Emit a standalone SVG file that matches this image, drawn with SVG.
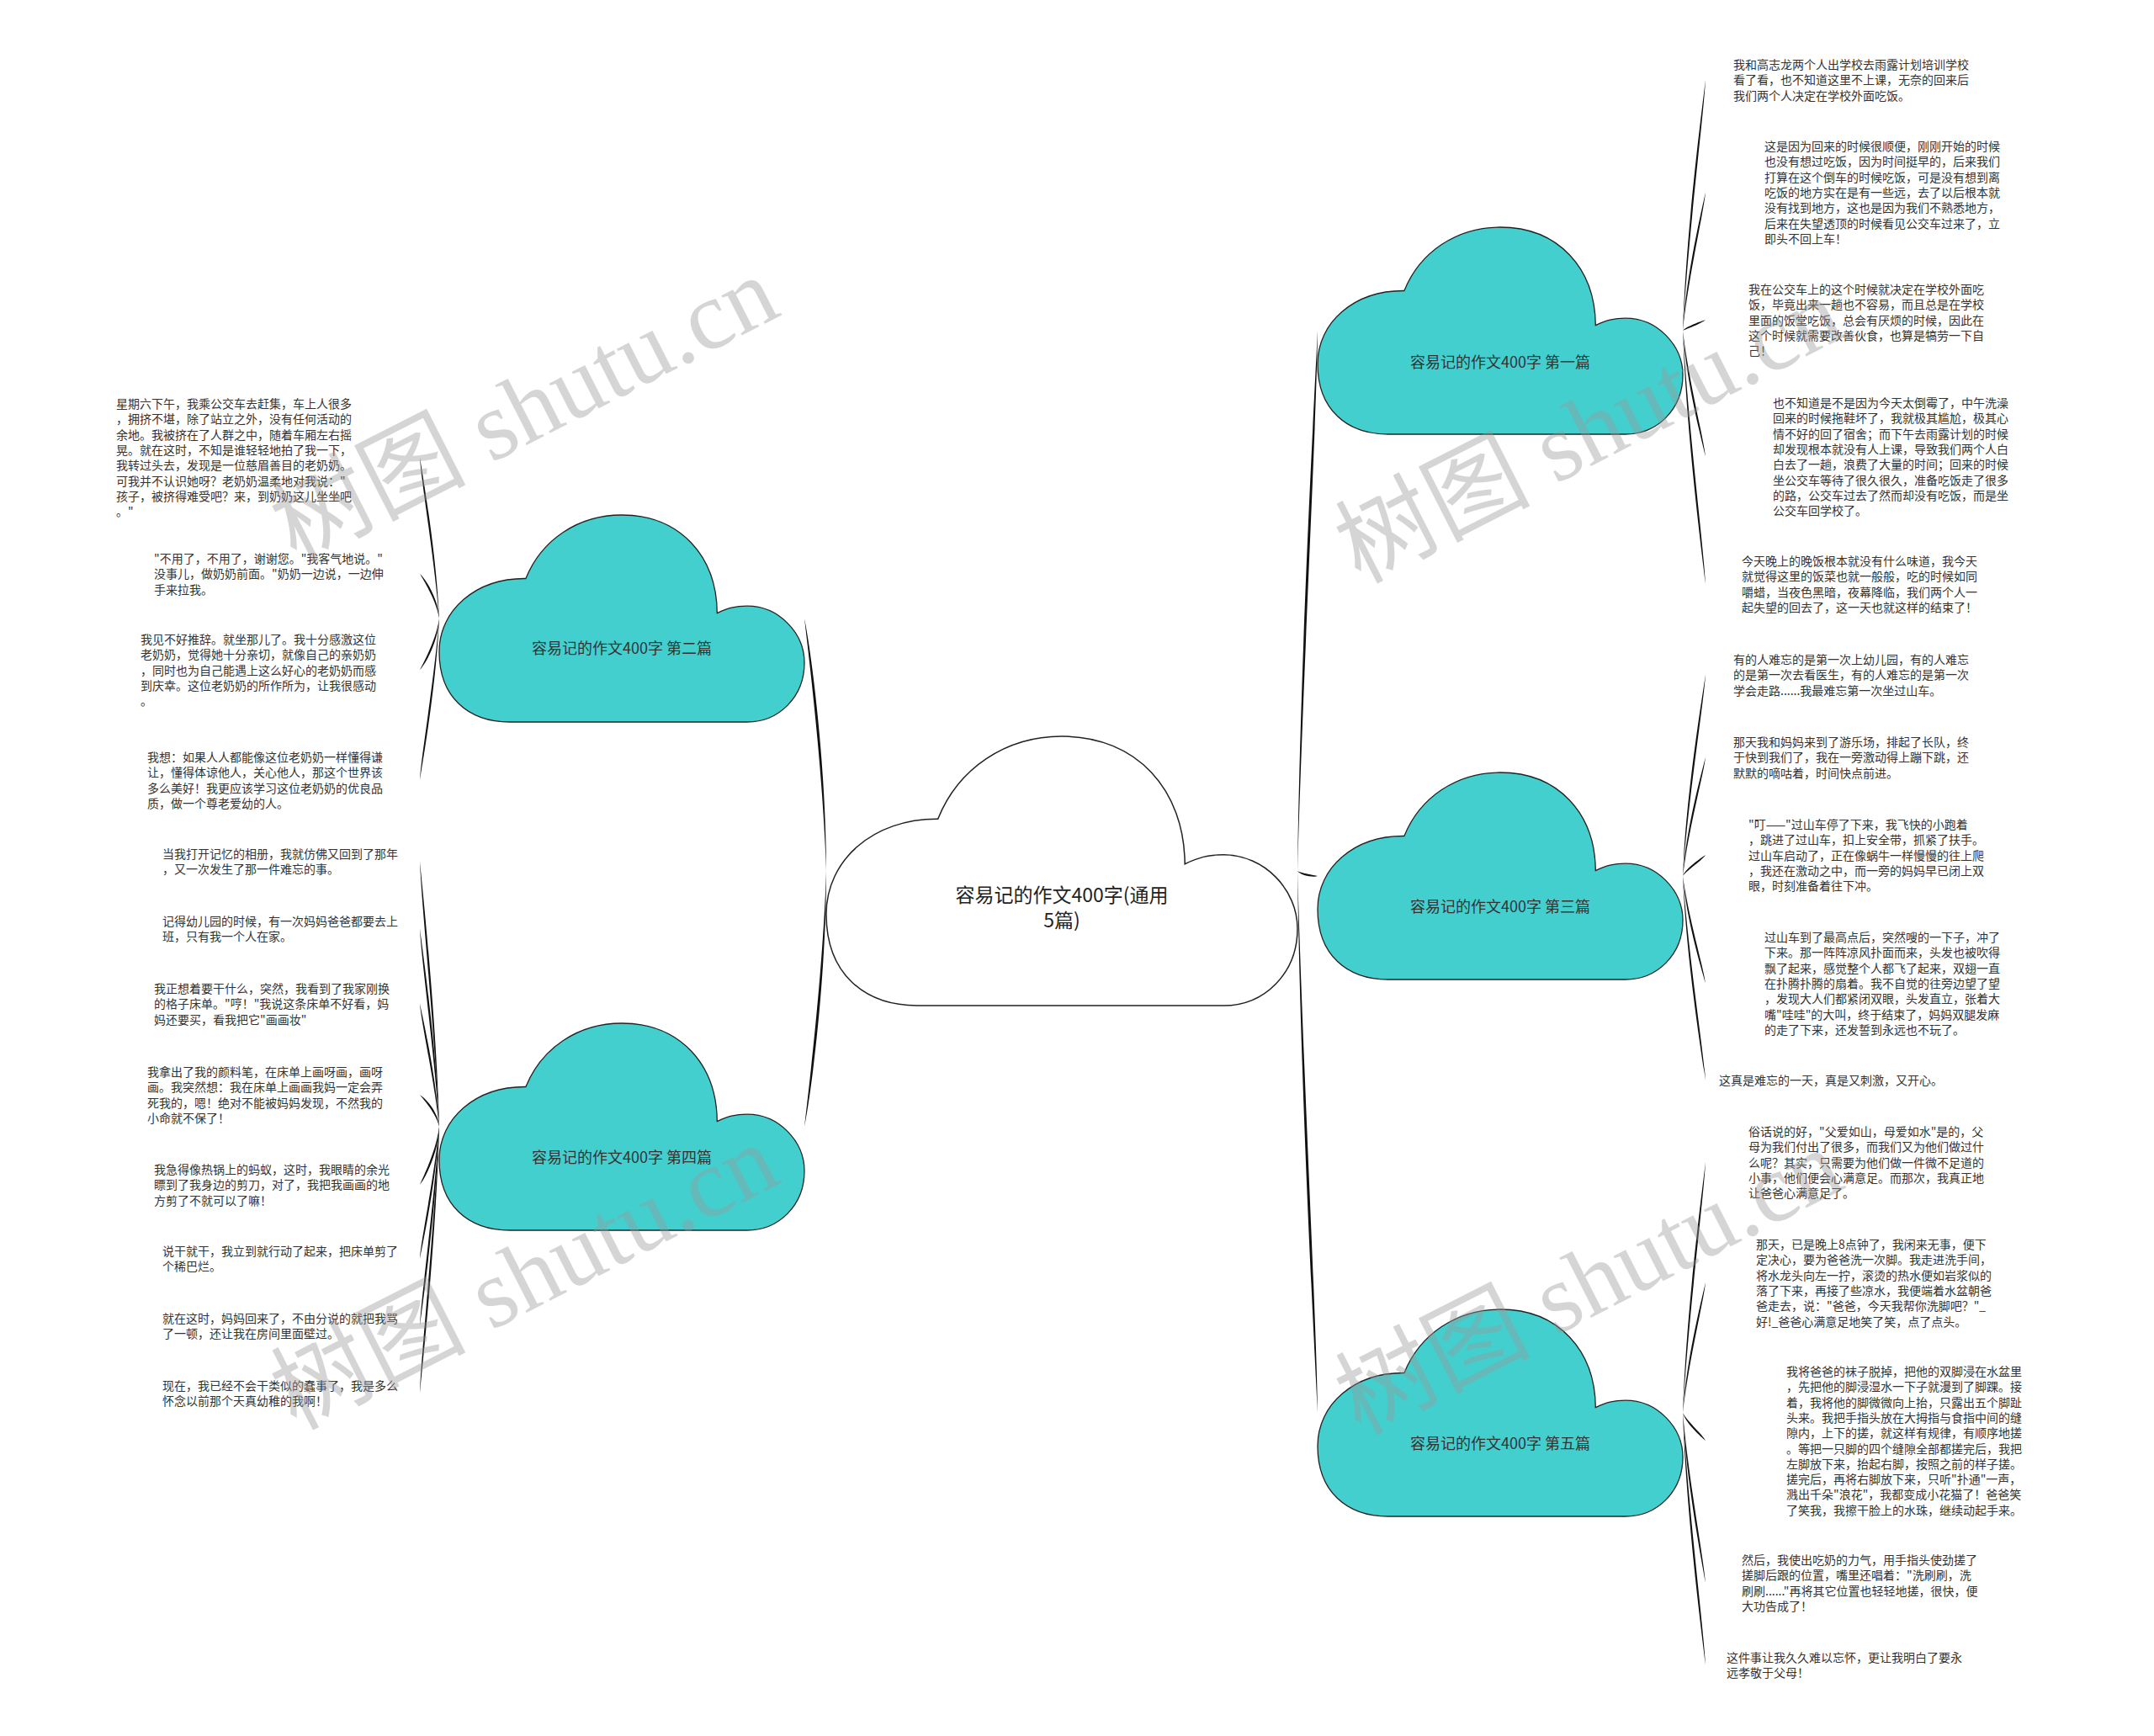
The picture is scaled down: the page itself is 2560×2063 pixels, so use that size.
<svg xmlns="http://www.w3.org/2000/svg" xmlns:xlink="http://www.w3.org/1999/xlink" width="2560" height="2063" viewBox="0 0 2560 2063">
<style>
.leaf{font-family:"Noto Sans CJK SC","Noto Sans",sans-serif;font-size:14px;fill:#333}
.cl{fill:#44CFCF;stroke:#222;stroke-width:1.3}
.root{fill:#fff;stroke:#222;stroke-width:1.5}
.lbl{font-family:"Noto Sans CJK SC","Noto Sans",sans-serif;font-size:18px;fill:#333;text-anchor:middle}
.rlbl{font-family:"Noto Sans CJK SC","Noto Sans",sans-serif;font-size:23px;fill:#222;text-anchor:middle}
.conn path{fill:#111}
.wm{font-family:"Liberation Serif","Noto Sans CJK SC",serif;font-size:116px;fill:#999;opacity:0.4}
</style>
<defs>
<path id="tealCloud" d="M83.8,246 C34.7,246 0,216.5 0,162.4 C0,113.2 43.4,75 102.9,75.5 C121.5,29.5 164.9,0 217,0 C286.4,0 329.8,49.2 330.3,116.6 C342.9,110.7 351.5,108.2 365.9,108.2 C403.6,108.2 434,140.2 434,175.6 C434,216.5 403.6,246 365.9,246 Z"/>
</defs>
<rect width="2560" height="2063" fill="#fff"/>
<g id="connectors" class="conn">
<path d="M982,1035 C978.1,915 961.2,780 956,735 C965.2,780 982.1,915 982,1035Z"/>
<path d="M982,1035 C978.1,1156.6 961.2,1293.4 956,1339 C965.2,1293.4 982.1,1156.6 982,1035Z"/>
<path d="M1542,1035 C1545.6,778.2 1561.2,489.3 1566,393 C1565.2,489.3 1549.6,778.2 1542,1035Z"/>
<path d="M1542,1035 C1545.6,1037.4 1561.2,1040.1 1566,1041 C1561.2,1043.1 1545.6,1040.4 1542,1035Z"/>
<path d="M1542,1035 C1545.6,1292.6 1561.2,1582.4 1566,1679 C1565.2,1582.4 1549.6,1292.6 1542,1035Z"/>
<path d="M2000,393 C2004,273.7 2021.6,139.5 2027,94.8 C2024.6,139.5 2007,273.7 2000,393Z"/>
<path d="M2000,393 C2004,327.2 2021.6,253.1 2027,228.4 C2024.6,253.1 2007,327.2 2000,393Z"/>
<path d="M2000,393 C2004,387.8 2021.6,382 2027,380 C2021.6,385 2004,390.8 2000,393Z"/>
<path d="M2000,393 C2004,452.8 2021.6,520.2 2027,542.6 C2024.6,520.2 2007,452.8 2000,393Z"/>
<path d="M2000,393 C2004,513.4 2021.6,648.9 2027,694 C2024.6,648.9 2007,513.4 2000,393Z"/>
<path d="M2000,1041 C2004,945.3 2021.6,837.7 2027,801.8 C2024.6,837.7 2007,945.3 2000,1041Z"/>
<path d="M2000,1041 C2004,984.5 2021.6,921 2027,899.8 C2024.6,921 2007,984.5 2000,1041Z"/>
<path d="M2000,1041 C2004,1031 2021.6,1019.8 2027,1016 C2023.6,1022 2006,1033.2 2000,1041Z"/>
<path d="M2000,1041 C2004,1092 2021.6,1149.3 2027,1168.4 C2024.6,1149.3 2007,1092 2000,1041Z"/>
<path d="M2000,1041 C2004,1138 2021.6,1247.1 2027,1283.5 C2024.6,1247.1 2007,1138 2000,1041Z"/>
<path d="M2000,1679 C2004,1559.8 2021.6,1425.7 2027,1381 C2024.6,1425.7 2007,1559.8 2000,1679Z"/>
<path d="M2000,1679 C2004,1617 2021.6,1547.3 2027,1524 C2024.6,1547.3 2007,1617 2000,1679Z"/>
<path d="M2000,1679 C2004,1692.2 2021.6,1707.1 2027,1712 C2023.9,1705.2 2006.3,1690.3 2000,1679Z"/>
<path d="M2000,1679 C2004,1759.8 2021.6,1850.7 2027,1881 C2024.6,1850.7 2007,1759.8 2000,1679Z"/>
<path d="M2000,1679 C2004,1798.9 2021.6,1933.8 2027,1978.8 C2024.6,1933.8 2007,1798.9 2000,1679Z"/>
<path d="M522,735 C518.6,658.4 503.6,572.2 499,543.5 C500.6,572.2 515.6,658.4 522,735Z"/>
<path d="M522,735 C518.6,713.7 503.6,689.8 499,681.8 C506.3,688.6 521.3,712.5 522,735Z"/>
<path d="M522,735 C518.6,759.4 503.6,786.9 499,796 C506.4,788.1 521.3,760.6 522,735Z"/>
<path d="M522,735 C518.6,811.8 503.6,898.2 499,927 C500.6,898.2 515.6,811.8 522,735Z"/>
<path d="M522,1339 C518.6,1212.8 503.6,1070.9 499,1023.6 C500.6,1070.9 515.6,1212.8 522,1339Z"/>
<path d="M522,1339 C518.6,1244.8 503.6,1138.9 499,1103.6 C500.6,1138.9 515.6,1244.8 522,1339Z"/>
<path d="M522,1339 C518.6,1280.5 503.6,1214.7 499,1192.8 C500.6,1214.7 515.6,1280.5 522,1339Z"/>
<path d="M522,1339 C518.6,1323.8 503.6,1306.7 499,1301 C506.2,1305.2 521.2,1322.3 522,1339Z"/>
<path d="M522,1339 C518.6,1366.5 503.6,1397.5 499,1407.8 C506.5,1398.5 521.5,1367.5 522,1339Z"/>
<path d="M522,1339 C518.6,1401.6 503.6,1472.1 499,1495.6 C500.6,1472.1 515.6,1401.6 522,1339Z"/>
<path d="M522,1339 C518.6,1433.6 503.6,1540.1 499,1575.6 C500.6,1540.1 515.6,1433.6 522,1339Z"/>
<path d="M522,1339 C518.6,1465.6 503.6,1608.1 499,1655.6 C500.6,1608.1 515.6,1465.6 522,1339Z"/>
</g>
<g id="root">
<path class="root" d="M1090.1,1195 C1026.8,1195 982,1156.6 982,1086.2 C982,1022.2 1038,972.6 1114.7,973.2 C1138.8,913.4 1194.8,875 1262,875 C1351.6,875 1407.6,939 1408.2,1026.7 C1424.4,1019 1435.6,1015.8 1454.1,1015.8 C1502.8,1015.8 1542,1057.4 1542,1103.5 C1542,1156.6 1502.8,1195 1454.1,1195 Z"/>
<text class="rlbl" x="1262" y="1072">容易记的作文400字(通用</text>
<text class="rlbl" x="1262" y="1102">5篇)</text>
</g>
<g id="topic1">
<use xlink:href="#tealCloud" class="cl" transform="translate(1566,270)"/>
<text class="lbl" x="1783" y="437">容易记的作文400字 第一篇</text>
</g>
<g id="topic2">
<use xlink:href="#tealCloud" class="cl" transform="translate(522,612)"/>
<text class="lbl" x="739" y="777">容易记的作文400字 第二篇</text>
</g>
<g id="topic3">
<use xlink:href="#tealCloud" class="cl" transform="translate(1566,918)"/>
<text class="lbl" x="1783" y="1084">容易记的作文400字 第三篇</text>
</g>
<g id="topic4">
<use xlink:href="#tealCloud" class="cl" transform="translate(522,1216)"/>
<text class="lbl" x="739" y="1382">容易记的作文400字 第四篇</text>
</g>
<g id="topic5">
<use xlink:href="#tealCloud" class="cl" transform="translate(1566,1556)"/>
<text class="lbl" x="1783" y="1722">容易记的作文400字 第五篇</text>
</g>
<g id="leaf1"><text class="leaf" y="82"><tspan x="2060">我和高志龙两个人出学校去雨露计划培训学校</tspan><tspan x="2060" dy="18.3">看了看，也不知道这里不上课，无奈的回来后</tspan><tspan x="2060" dy="18.3">我们两个人决定在学校外面吃饭。</tspan></text></g>
<g id="leaf2"><text class="leaf" y="179"><tspan x="2097">这是因为回来的时候很顺便，刚刚开始的时候</tspan><tspan x="2097" dy="18.3">也没有想过吃饭，因为时间挺早的，后来我们</tspan><tspan x="2097" dy="18.3">打算在这个倒车的时候吃饭，可是没有想到离</tspan><tspan x="2097" dy="18.3">吃饭的地方实在是有一些远，去了以后根本就</tspan><tspan x="2097" dy="18.3">没有找到地方，这也是因为我们不熟悉地方，</tspan><tspan x="2097" dy="18.3">后来在失望透顶的时候看见公交车过来了，立</tspan><tspan x="2097" dy="18.3">即头不回上车！</tspan></text></g>
<g id="leaf3"><text class="leaf" y="349"><tspan x="2078">我在公交车上的这个时候就决定在学校外面吃</tspan><tspan x="2078" dy="18.3">饭，毕竟出来一趟也不容易，而且总是在学校</tspan><tspan x="2078" dy="18.3">里面的饭堂吃饭，总会有厌烦的时候，因此在</tspan><tspan x="2078" dy="18.3">这个时候就需要改善伙食，也算是犒劳一下自</tspan><tspan x="2078" dy="18.3">己！</tspan></text></g>
<g id="leaf4"><text class="leaf" y="484"><tspan x="2107">也不知道是不是因为今天太倒霉了，中午洗澡</tspan><tspan x="2107" dy="18.3">回来的时候拖鞋坏了，我就极其尴尬，极其心</tspan><tspan x="2107" dy="18.3">情不好的回了宿舍；而下午去雨露计划的时候</tspan><tspan x="2107" dy="18.3">却发现根本就没有人上课，导致我们两个人白</tspan><tspan x="2107" dy="18.3">白去了一趟，浪费了大量的时间；回来的时候</tspan><tspan x="2107" dy="18.3">坐公交车等待了很久很久，准备吃饭走了很多</tspan><tspan x="2107" dy="18.3">的路，公交车过去了然而却没有吃饭，而是坐</tspan><tspan x="2107" dy="18.3">公交车回学校了。</tspan></text></g>
<g id="leaf5"><text class="leaf" y="672"><tspan x="2070">今天晚上的晚饭根本就没有什么味道，我今天</tspan><tspan x="2070" dy="18.3">就觉得这里的饭菜也就一般般，吃的时候如同</tspan><tspan x="2070" dy="18.3">嚼蜡，当夜色黑暗，夜幕降临，我们两个人一</tspan><tspan x="2070" dy="18.3">起失望的回去了，这一天也就这样的结束了！</tspan></text></g>
<g id="leaf6"><text class="leaf" y="789"><tspan x="2060">有的人难忘的是第一次上幼儿园，有的人难忘</tspan><tspan x="2060" dy="18.3">的是第一次去看医生，有的人难忘的是第一次</tspan><tspan x="2060" dy="18.3">学会走路......我最难忘第一次坐过山车。</tspan></text></g>
<g id="leaf7"><text class="leaf" y="887"><tspan x="2060">那天我和妈妈来到了游乐场，排起了长队，终</tspan><tspan x="2060" dy="18.3">于快到我们了，我在一旁激动得上蹦下跳，还</tspan><tspan x="2060" dy="18.3">默默的嘀咕着，时间快点前进。</tspan></text></g>
<g id="leaf8"><text class="leaf" y="985"><tspan x="2078">"叮——"过山车停了下来，我飞快的小跑着</tspan><tspan x="2078" dy="18.3">，跳进了过山车，扣上安全带，抓紧了扶手。</tspan><tspan x="2078" dy="18.3">过山车启动了，正在像蜗牛一样慢慢的往上爬</tspan><tspan x="2078" dy="18.3">，我还在激动之中，而一旁的妈妈早已闭上双</tspan><tspan x="2078" dy="18.3">眼，时刻准备着往下冲。</tspan></text></g>
<g id="leaf9"><text class="leaf" y="1119"><tspan x="2097">过山车到了最高点后，突然嗖的一下子，冲了</tspan><tspan x="2097" dy="18.3">下来。那一阵阵凉风扑面而来，头发也被吹得</tspan><tspan x="2097" dy="18.3">飘了起来，感觉整个人都飞了起来，双翅一直</tspan><tspan x="2097" dy="18.3">在扑腾扑腾的扇着。我不自觉的往旁边望了望</tspan><tspan x="2097" dy="18.3">，发现大人们都紧闭双眼，头发直立，张着大</tspan><tspan x="2097" dy="18.3">嘴"哇哇"的大叫，终于结束了，妈妈双腿发麻</tspan><tspan x="2097" dy="18.3">的走了下来，还发誓到永远也不玩了。</tspan></text></g>
<g id="leaf10"><text class="leaf" y="1289"><tspan x="2043">这真是难忘的一天，真是又刺激，又开心。</tspan></text></g>
<g id="leaf11"><text class="leaf" y="1350"><tspan x="2078">俗话说的好，"父爱如山，母爱如水"是的，父</tspan><tspan x="2078" dy="18.3">母为我们付出了很多，而我们又为他们做过什</tspan><tspan x="2078" dy="18.3">么呢？其实，只需要为他们做一件微不足道的</tspan><tspan x="2078" dy="18.3">小事，他们便会心满意足。而那次，我真正地</tspan><tspan x="2078" dy="18.3">让爸爸心满意足了。</tspan></text></g>
<g id="leaf12"><text class="leaf" y="1484"><tspan x="2087">那天，已是晚上8点钟了，我闲来无事，便下</tspan><tspan x="2087" dy="18.3">定决心，要为爸爸洗一次脚。我走进洗手间，</tspan><tspan x="2087" dy="18.3">将水龙头向左一拧，滚烫的热水便如岩浆似的</tspan><tspan x="2087" dy="18.3">落了下来，再接了些凉水，我便端着水盆朝爸</tspan><tspan x="2087" dy="18.3">爸走去，说："爸爸，今天我帮你洗脚吧？"_</tspan><tspan x="2087" dy="18.3">好!_爸爸心满意足地笑了笑，点了点头。</tspan></text></g>
<g id="leaf13"><text class="leaf" y="1635"><tspan x="2123">我将爸爸的袜子脱掉，把他的双脚浸在水盆里</tspan><tspan x="2123" dy="18.3">，先把他的脚浸湿水一下子就漫到了脚踝。接</tspan><tspan x="2123" dy="18.3">着，我将他的脚微微向上抬，只露出五个脚趾</tspan><tspan x="2123" dy="18.3">头来。我把手指头放在大拇指与食指中间的缝</tspan><tspan x="2123" dy="18.3">隙内，上下的搓，就这样有规律，有顺序地搓</tspan><tspan x="2123" dy="18.3">。等把一只脚的四个缝隙全部都搓完后，我把</tspan><tspan x="2123" dy="18.3">左脚放下来，抬起右脚，按照之前的样子搓。</tspan><tspan x="2123" dy="18.3">搓完后，再将右脚放下来，只听"扑通"一声，</tspan><tspan x="2123" dy="18.3">溅出千朵"浪花"，我都变成小花猫了！爸爸笑</tspan><tspan x="2123" dy="18.3">了笑我，我擦干脸上的水珠，继续动起手来。</tspan></text></g>
<g id="leaf14"><text class="leaf" y="1859"><tspan x="2070">然后，我使出吃奶的力气，用手指头使劲搓了</tspan><tspan x="2070" dy="18.3">搓脚后跟的位置，嘴里还唱着："洗刷刷，洗</tspan><tspan x="2070" dy="18.3">刷刷......"再将其它位置也轻轻地搓，很快，便</tspan><tspan x="2070" dy="18.3">大功告成了！</tspan></text></g>
<g id="leaf15"><text class="leaf" y="1975"><tspan x="2052">这件事让我久久难以忘怀，更让我明白了要永</tspan><tspan x="2052" dy="18.3">远孝敬于父母！</tspan></text></g>
<g id="leaf16"><text class="leaf" y="485"><tspan x="138">星期六下午，我乘公交车去赶集，车上人很多</tspan><tspan x="138" dy="18.3">，拥挤不堪，除了站立之外，没有任何活动的</tspan><tspan x="138" dy="18.3">余地。我被挤在了人群之中，随着车厢左右摇</tspan><tspan x="138" dy="18.3">晃。就在这时，不知是谁轻轻地拍了我一下，</tspan><tspan x="138" dy="18.3">我转过头去，发现是一位慈眉善目的老奶奶。</tspan><tspan x="138" dy="18.3">可我并不认识她呀？老奶奶温柔地对我说："</tspan><tspan x="138" dy="18.3">孩子，被挤得难受吧？来，到奶奶这儿坐坐吧</tspan><tspan x="138" dy="18.3">。"</tspan></text></g>
<g id="leaf17"><text class="leaf" y="669"><tspan x="183">"不用了，不用了，谢谢您。"我客气地说。"</tspan><tspan x="183" dy="18.3">没事儿，做奶奶前面。"奶奶一边说，一边伸</tspan><tspan x="183" dy="18.3">手来拉我。</tspan></text></g>
<g id="leaf18"><text class="leaf" y="765"><tspan x="167">我见不好推辞。就坐那儿了。我十分感激这位</tspan><tspan x="167" dy="18.3">老奶奶，觉得她十分亲切，就像自己的亲奶奶</tspan><tspan x="167" dy="18.3">，同时也为自己能遇上这么好心的老奶奶而感</tspan><tspan x="167" dy="18.3">到庆幸。这位老奶奶的所作所为，让我很感动</tspan><tspan x="167" dy="18.3">。</tspan></text></g>
<g id="leaf19"><text class="leaf" y="905"><tspan x="175">我想：如果人人都能像这位老奶奶一样懂得谦</tspan><tspan x="175" dy="18.3">让，懂得体谅他人，关心他人，那这个世界该</tspan><tspan x="175" dy="18.3">多么美好！我更应该学习这位老奶奶的优良品</tspan><tspan x="175" dy="18.3">质，做一个尊老爱幼的人。</tspan></text></g>
<g id="leaf20"><text class="leaf" y="1020"><tspan x="193">当我打开记忆的相册，我就仿佛又回到了那年</tspan><tspan x="193" dy="18.3">，又一次发生了那一件难忘的事。</tspan></text></g>
<g id="leaf21"><text class="leaf" y="1100"><tspan x="193">记得幼儿园的时候，有一次妈妈爸爸都要去上</tspan><tspan x="193" dy="18.3">班，只有我一个人在家。</tspan></text></g>
<g id="leaf22"><text class="leaf" y="1180"><tspan x="183">我正想着要干什么，突然，我看到了我家刚换</tspan><tspan x="183" dy="18.3">的格子床单。"哼！"我说这条床单不好看，妈</tspan><tspan x="183" dy="18.3">妈还要买，看我把它"画画妆"</tspan></text></g>
<g id="leaf23"><text class="leaf" y="1279"><tspan x="175">我拿出了我的颜料笔，在床单上画呀画，画呀</tspan><tspan x="175" dy="18.3">画。我突然想：我在床单上画画我妈一定会弄</tspan><tspan x="175" dy="18.3">死我的，嗯！绝对不能被妈妈发现，不然我的</tspan><tspan x="175" dy="18.3">小命就不保了！</tspan></text></g>
<g id="leaf24"><text class="leaf" y="1395"><tspan x="183">我急得像热锅上的蚂蚁，这时，我眼睛的余光</tspan><tspan x="183" dy="18.3">瞟到了我身边的剪刀，对了，我把我画画的地</tspan><tspan x="183" dy="18.3">方剪了不就可以了嘛！</tspan></text></g>
<g id="leaf25"><text class="leaf" y="1492"><tspan x="193">说干就干，我立到就行动了起来，把床单剪了</tspan><tspan x="193" dy="18.3">个稀巴烂。</tspan></text></g>
<g id="leaf26"><text class="leaf" y="1572"><tspan x="193">就在这时，妈妈回来了，不由分说的就把我骂</tspan><tspan x="193" dy="18.3">了一顿，还让我在房间里面壁过。</tspan></text></g>
<g id="leaf27"><text class="leaf" y="1652"><tspan x="193">现在，我已经不会干类似的蠢事了，我是多么</tspan><tspan x="193" dy="18.3">怀念以前那个天真幼稚的我啊！</tspan></text></g>
<g id="watermarks">
<text class="wm" transform="translate(351,669) rotate(-27)">树图 shutu.cn</text>
<text class="wm" transform="translate(351,1700) rotate(-27)">树图 shutu.cn</text>
<text class="wm" transform="translate(1616,694) rotate(-27)">树图 shutu.cn</text>
<text class="wm" transform="translate(1616,1706) rotate(-27)">树图 shutu.cn</text>
</g>
</svg>
